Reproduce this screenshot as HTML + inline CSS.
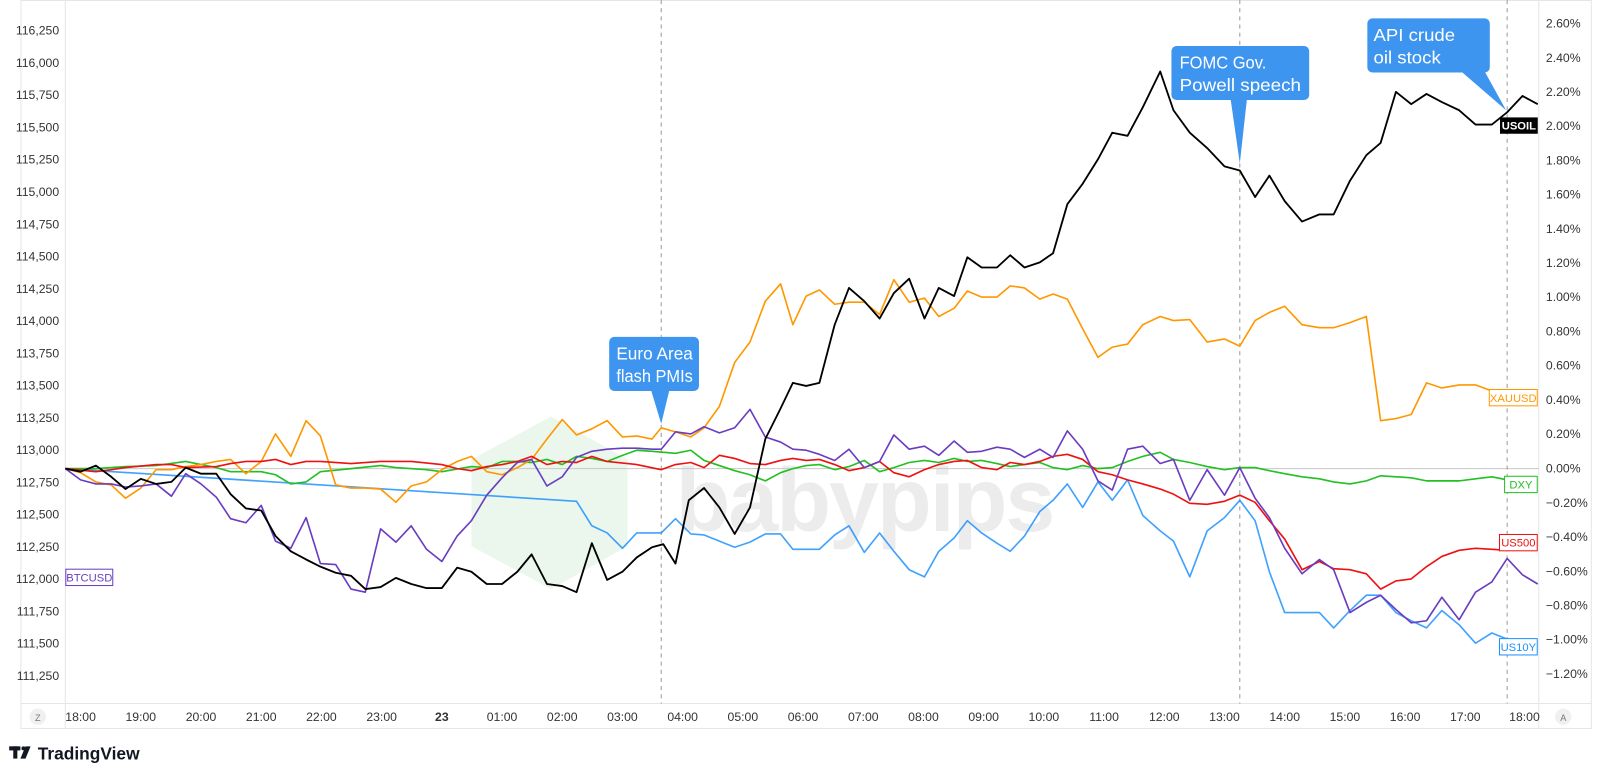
<!DOCTYPE html>
<html><head><meta charset="utf-8"><style>
html,body{margin:0;padding:0;background:#fff;width:1600px;height:779px;overflow:hidden}
svg{display:block}
text{font-family:"Liberation Sans",sans-serif}
</style></head><body>
<svg width="1600" height="779" viewBox="0 0 1568 763" preserveAspectRatio="none" xmlns="http://www.w3.org/2000/svg">
<rect x="0" y="0" width="1568" height="763" fill="#fff"/>
<rect x="20.5" y="0.5" width="1539" height="713" fill="none" stroke="#e6e6e6"/>
<line x1="64" y1="0" x2="64" y2="714" stroke="#e6e6e6"/>
<line x1="1508" y1="0" x2="1508" y2="714" stroke="#e6e6e6"/>
<line x1="20" y1="689" x2="1560" y2="689" stroke="#e6e6e6"/>
<g opacity="0.1">
<polygon points="540,408 615,450 615,535 540,577 462,535 462,450" fill="#3cb043"/>
</g>
<text x="662" y="520" font-size="88" font-weight="bold" fill="#000" opacity="0.07" style="letter-spacing:-2px">babypips</text>
<line x1="64" y1="459" x2="1508" y2="459" stroke="#c8c8c8" stroke-width="1"/>
<g stroke="#9a9a9a" stroke-dasharray="4,4" stroke-width="1">
<line x1="648" y1="0" x2="648" y2="689"/>
<line x1="1215" y1="0" x2="1215" y2="689"/>
<line x1="1477" y1="0" x2="1477" y2="689"/>
</g>
<g font-size="12" fill="#333" text-anchor="end">
<text x="58" y="34">116,250</text><text x="58" y="65.6">116,000</text><text x="58" y="97.2">115,750</text><text x="58" y="128.8">115,500</text><text x="58" y="160.4">115,250</text><text x="58" y="192">115,000</text><text x="58" y="223.6">114,750</text><text x="58" y="255.2">114,500</text><text x="58" y="286.8">114,250</text><text x="58" y="318.4">114,000</text><text x="58" y="350">113,750</text><text x="58" y="381.6">113,500</text><text x="58" y="413.2">113,250</text><text x="58" y="444.8">113,000</text><text x="58" y="476.4">112,750</text><text x="58" y="508">112,500</text><text x="58" y="539.6">112,250</text><text x="58" y="571.2">112,000</text><text x="58" y="602.8">111,750</text><text x="58" y="634.4">111,500</text><text x="58" y="666">111,250</text>
</g>
<g font-size="12" fill="#333">
<text x="1515" y="27">2.60%</text><text x="1515" y="60.5">2.40%</text><text x="1515" y="94">2.20%</text><text x="1515" y="127.5">2.00%</text><text x="1515" y="161">1.80%</text><text x="1515" y="194.5">1.60%</text><text x="1515" y="228">1.40%</text><text x="1515" y="261.5">1.20%</text><text x="1515" y="295">1.00%</text><text x="1515" y="328.5">0.80%</text><text x="1515" y="362">0.60%</text><text x="1515" y="395.5">0.40%</text><text x="1515" y="429">0.20%</text><text x="1515" y="463">0.00%</text><text x="1515" y="496.5">−0.20%</text><text x="1515" y="530">−0.40%</text><text x="1515" y="563.5">−0.60%</text><text x="1515" y="597">−0.80%</text><text x="1515" y="630.5">−1.00%</text><text x="1515" y="664">−1.20%</text>
</g>
<g font-size="12" fill="#333" text-anchor="middle">
<text x="79" y="706">18:00</text><text x="138" y="706">19:00</text><text x="197" y="706">20:00</text><text x="256" y="706">21:00</text><text x="315" y="706">22:00</text><text x="374" y="706">23:00</text><text x="433" y="706" font-weight="bold">23</text><text x="492" y="706">01:00</text><text x="551" y="706">02:00</text><text x="610" y="706">03:00</text><text x="669" y="706">04:00</text><text x="728" y="706">05:00</text><text x="787" y="706">06:00</text><text x="846" y="706">07:00</text><text x="905" y="706">08:00</text><text x="964" y="706">09:00</text><text x="1023" y="706">10:00</text><text x="1082" y="706">11:00</text><text x="1141" y="706">12:00</text><text x="1200" y="706">13:00</text><text x="1259" y="706">14:00</text><text x="1318" y="706">15:00</text><text x="1377" y="706">16:00</text><text x="1436" y="706">17:00</text><text x="1494" y="706">18:00</text>
</g>
<circle cx="37" cy="702" r="8" fill="#f0f0f0"/><text x="37" y="706" font-size="9" fill="#777" text-anchor="middle">Z</text>
<circle cx="1532" cy="702" r="8" fill="#f0f0f0"/><text x="1532" y="706" font-size="9" fill="#777" text-anchor="middle">A</text>
<g fill="none" stroke-width="1.6" stroke-linejoin="round">
<polyline stroke="#1e90ff" stroke-opacity="0.85" points="64,459 565,491 580,515 595,522 610,537 624,522 639,522 648,522 662,508 677,523 690,524 705,530 720,536 735,531 750,523 765,523 777,538 790,538 803,538 818,524 832,515 847,541 862,522 876,540 891,558 906,565 920,540 935,527 948,510 962,522 977,532 990,540 1004,525 1019,501 1032,490 1046,474 1061,497 1076,472 1090,490 1105,470 1120,505 1137,520 1150,530 1166,565 1183,520 1200,507 1215,490 1230,510 1244,560 1259,600 1276,600 1293,600 1307,615 1323,598 1339,583 1353,583 1368,600 1383,608 1398,615 1413,598 1430,612 1446,630 1462,620 1477,626"/>
<polyline stroke="#22c022" points="64,459 94,459 123,457 153,456 182,452 197,455 212,458 226,462 256,462 270,465 285,474 300,472 314,462 344,459 373,456 388,458 418,460 433,462 462,457 477,458 492,452 507,452 521,453 536,450 551,455 565,447 580,449 595,452 610,446 624,441 639,442 662,444 677,441 690,451 705,456 720,461 735,465 750,471 765,463 777,459 790,456 803,455 818,460 832,457 847,451 862,462 876,458 891,453 906,451 920,453 935,449 948,452 962,451 977,454 990,457 1004,455 1019,453 1032,458 1046,460 1061,456 1076,459 1090,458 1105,452 1120,447 1137,443 1150,450 1166,453 1183,457 1200,460 1215,458 1230,458 1244,461 1259,464 1276,467 1293,469 1307,472 1323,474 1339,471 1353,466 1368,467 1383,468 1398,471 1413,471 1430,471 1446,469 1462,467 1477,470"/>
<polyline stroke="#ff9800" points="64,459 79,463 94,472 109,475 123,488 138,478 153,460 168,460 182,457 197,455 212,452 226,450 241,464 256,452 270,425 285,447 300,412 314,427 329,475 344,478 358,478 373,479 388,492 403,476 418,472 433,460 448,452 462,447 477,462 492,465 507,458 521,450 536,430 551,411 565,426 580,420 595,412 610,428 624,427 639,430 648,419 662,423 677,428 690,419 705,398 720,355 735,335 750,295 765,278 777,318 790,290 803,284 818,298 832,296 847,296 862,308 876,274 891,296 906,292 920,310 935,302 948,285 962,291 977,291 990,280 1004,282 1019,293 1032,288 1046,293 1061,322 1076,350 1090,340 1105,337 1120,318 1137,310 1150,314 1166,313 1183,335 1200,332 1215,339 1230,314 1244,306 1259,300 1276,318 1293,321 1307,321 1323,316 1339,310 1353,412 1368,410 1383,406 1398,375 1413,380 1430,377 1446,377 1462,383 1477,382 1492,382"/>
<polyline stroke="#ee1111" points="64,459 94,462 109,460 123,458 153,455 168,455 182,458 212,457 226,454 241,452 256,452 270,450 285,455 300,452 314,452 344,454 373,452 403,452 433,455 448,459 462,461 477,457 492,455 507,452 521,447 536,455 551,452 565,453 580,447 595,452 624,455 648,460 662,455 677,453 690,458 705,446 720,449 735,454 750,455 765,451 777,449 790,451 803,450 818,455 832,461 847,458 862,452 876,463 891,467 906,460 920,455 935,452 948,451 962,458 977,460 990,453 1004,455 1019,452 1032,447 1046,445 1061,450 1076,462 1090,465 1105,470 1120,474 1137,479 1150,484 1166,493 1183,494 1200,491 1215,485 1230,492 1244,510 1259,528 1276,558 1293,550 1307,557 1323,558 1339,562 1353,577 1368,569 1383,567 1398,555 1413,545 1430,539 1446,537 1462,538 1477,539 1492,537"/>
<polyline stroke="#6a3dc0" points="64,459 79,470 94,474 109,474 123,477 138,476 153,474 168,486 182,464 197,474 212,487 226,508 241,512 256,495 270,530 285,537 300,507 314,552 329,553 344,577 358,580 373,518 388,531 403,515 418,538 433,550 448,525 462,510 477,485 492,468 507,453 521,450 536,476 551,467 565,448 580,442 595,440 610,439 624,439 639,440 648,440 662,423 677,425 690,418 705,424 720,419 735,401 750,428 765,433 777,440 790,441 803,445 818,451 832,440 847,458 862,452 876,426 891,440 906,437 920,446 935,432 948,443 962,442 977,438 990,440 1004,448 1019,440 1032,448 1046,422 1061,440 1076,471 1090,480 1105,440 1120,437 1137,454 1150,450 1166,490 1183,460 1200,485 1215,458 1230,488 1244,507 1259,537 1276,562 1293,548 1307,558 1323,600 1339,590 1353,583 1368,597 1383,610 1398,608 1413,585 1430,607 1446,580 1462,570 1477,547 1492,563 1507,572"/>
<polyline stroke="#000" stroke-width="1.8" points="64,459 79,462 94,456 109,467 123,479 138,469 153,474 168,472 182,458 197,464 212,464 226,484 241,498 256,500 270,525 285,540 300,548 314,555 329,561 344,564 358,577 373,575 388,566 403,572 418,576 433,576 448,556 462,560 477,572 492,572 507,560 521,543 536,572 551,574 565,580 580,532 595,568 610,560 624,546 639,536 650,533 662,552 675,490 690,478 705,497 720,523 735,497 750,430 765,400 777,375 790,378 803,375 818,318 832,282 847,295 862,312 876,287 891,273 906,312 920,282 935,290 948,252 962,262 977,262 990,250 1004,262 1019,257 1032,248 1046,200 1061,180 1076,156 1090,130 1105,133 1120,105 1137,70 1150,108 1166,130 1183,145 1200,163 1215,167 1230,193 1244,172 1259,197 1276,217 1293,210 1307,210 1323,177 1339,152 1353,140 1368,90 1383,102 1398,92 1413,100 1430,108 1446,122 1462,122 1477,110 1492,94 1507,102"/>
</g>
<g font-size="11">
<rect x="1470" y="115" width="37" height="16" fill="#000"/><text x="1488.5" y="127" fill="#fff" text-anchor="middle" font-weight="bold">USOIL</text>
<rect x="1459.5" y="381.5" width="47" height="16" fill="#fff" stroke="#ff9800"/><text x="1483" y="393.5" fill="#ff9800" text-anchor="middle">XAUUSD</text>
<rect x="1474.5" y="466.5" width="32" height="16" fill="#fff" stroke="#22c022"/><text x="1490.5" y="478.5" fill="#22c022" text-anchor="middle">DXY</text>
<rect x="1469.5" y="523.5" width="37" height="16" fill="#fff" stroke="#ee1111"/><text x="1488" y="535.5" fill="#ee1111" text-anchor="middle">US500</text>
<rect x="1469.5" y="625.5" width="37" height="16" fill="#fff" stroke="#1e90ff"/><text x="1488" y="637.5" fill="#1e90ff" text-anchor="middle">US10Y</text>
<rect x="64.5" y="557.5" width="46" height="16" fill="#fff" stroke="#6a3dc0"/><text x="87.5" y="569.5" fill="#6a3dc0" text-anchor="middle">BTCUSD</text>
</g>
<g fill="#3d95f0">
<rect x="597" y="330" width="88" height="53" rx="5"/><polygon points="638,382 656,382 648,415"/>
<rect x="1148" y="45" width="135" height="53" rx="5"/><polygon points="1206,97 1222,97 1215,160"/>
<rect x="1340" y="18" width="120" height="53" rx="5"/><polygon points="1432,70 1455,70 1476,108"/>
</g>
<g fill="#fff" font-size="17">
<text x="604" y="352" textLength="75" lengthAdjust="spacingAndGlyphs">Euro Area</text><text x="604" y="374" textLength="75" lengthAdjust="spacingAndGlyphs">flash PMIs</text>
<text x="1156" y="67" textLength="85" lengthAdjust="spacingAndGlyphs">FOMC Gov.</text><text x="1156" y="89" textLength="119" lengthAdjust="spacingAndGlyphs">Powell speech</text>
<text x="1346" y="40" textLength="80" lengthAdjust="spacingAndGlyphs">API crude</text><text x="1346" y="62" textLength="66" lengthAdjust="spacingAndGlyphs">oil stock</text>
</g>
<g fill="#131722">
<rect x="9" y="731" width="11" height="4"/><rect x="13" y="731" width="4" height="12"/>
<circle cx="23" cy="733" r="2"/><polygon points="25,731 30,731 25,743 20,743"/>
<text x="37" y="744" font-size="17" font-weight="bold">TradingView</text>
</g>
</svg>
</body></html>
